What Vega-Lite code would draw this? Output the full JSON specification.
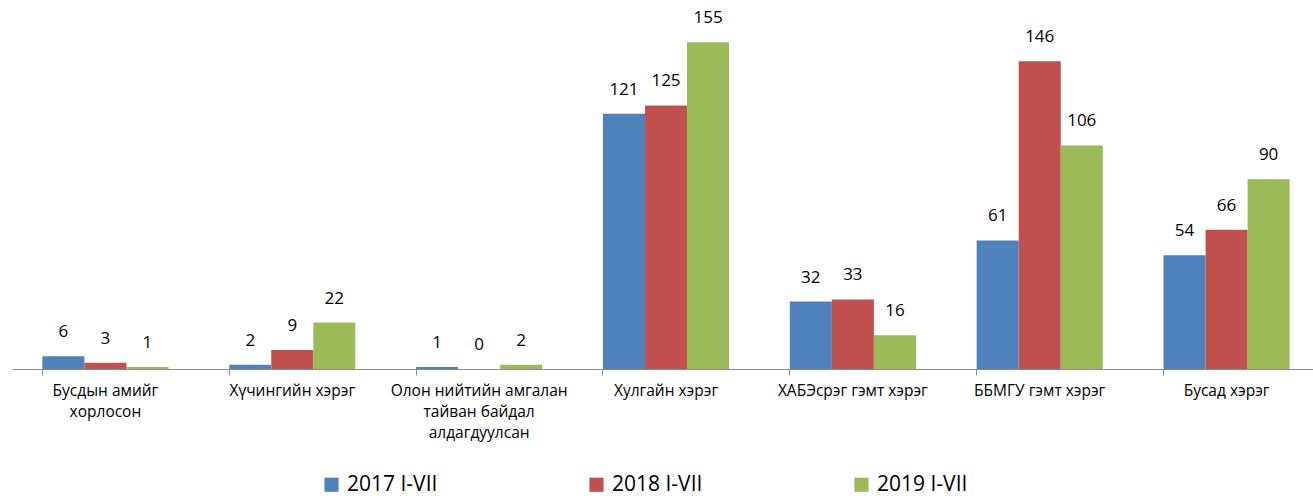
{
  "$schema": "https://vega.github.io/schema/vega-lite/v6.json",
  "width": 1308,
  "height": 369,
  "autosize": "none",
  "padding": {"left": 12, "top": 0, "right": 0, "bottom": 131},
  "config": {"view": {"stroke": null}, "font": "Open Sans"},
  "data": {"values": [
    {"cat": "Бусдын амийг хорлосон", "series": "2017 I-VII", "v": 6},
    {"cat": "Бусдын амийг хорлосон", "series": "2018 I-VII", "v": 3},
    {"cat": "Бусдын амийг хорлосон", "series": "2019 I-VII", "v": 1},
    {"cat": "Хүчингийн хэрэг", "series": "2017 I-VII", "v": 2},
    {"cat": "Хүчингийн хэрэг", "series": "2018 I-VII", "v": 9},
    {"cat": "Хүчингийн хэрэг", "series": "2019 I-VII", "v": 22},
    {"cat": "Олон нийтийн амгалан тайван байдал алдагдуулсан", "series": "2017 I-VII", "v": 1},
    {"cat": "Олон нийтийн амгалан тайван байдал алдагдуулсан", "series": "2018 I-VII", "v": 0},
    {"cat": "Олон нийтийн амгалан тайван байдал алдагдуулсан", "series": "2019 I-VII", "v": 2},
    {"cat": "Хулгайн хэрэг", "series": "2017 I-VII", "v": 121},
    {"cat": "Хулгайн хэрэг", "series": "2018 I-VII", "v": 125},
    {"cat": "Хулгайн хэрэг", "series": "2019 I-VII", "v": 155},
    {"cat": "ХАБЭсрэг гэмт хэрэг", "series": "2017 I-VII", "v": 32},
    {"cat": "ХАБЭсрэг гэмт хэрэг", "series": "2018 I-VII", "v": 33},
    {"cat": "ХАБЭсрэг гэмт хэрэг", "series": "2019 I-VII", "v": 16},
    {"cat": "ББМГУ гэмт хэрэг", "series": "2017 I-VII", "v": 61},
    {"cat": "ББМГУ гэмт хэрэг", "series": "2018 I-VII", "v": 146},
    {"cat": "ББМГУ гэмт хэрэг", "series": "2019 I-VII", "v": 106},
    {"cat": "Бусад хэрэг", "series": "2017 I-VII", "v": 54},
    {"cat": "Бусад хэрэг", "series": "2018 I-VII", "v": 66},
    {"cat": "Бусад хэрэг", "series": "2019 I-VII", "v": 90}
  ]},
  "encoding": {
    "x": {
      "field": "cat", "type": "nominal", "sort": null,
      "scale": {"paddingInner": 0.325, "paddingOuter": 0.1625},
      "axis": {
        "title": null, "labelAngle": 0, "bandPosition": 0,
        "domainColor": "#8c8c8c", "tickColor": "#8c8c8c", "tickSize": 6,
        "labelFontSize": 15.5, "labelColor": "#000000", "labelPadding": 8,
        "labelLimit": 220, "labelLineHeight": 21, "labelBaseline": "top",
        "labelExpr": "datum.label == 'Бусдын амийг хорлосон' ? ['Бусдын амийг', 'хорлосон'] : datum.label == 'Олон нийтийн амгалан тайван байдал алдагдуулсан' ? ['Олон нийтийн амгалан', 'тайван байдал', 'алдагдуулсан'] : datum.label"
      }
    },
    "xOffset": {"field": "series", "type": "nominal", "scale": {"paddingInner": 0, "paddingOuter": 0}},
    "y": {"field": "v", "type": "quantitative", "scale": {"domain": [0, 175]}, "axis": null}
  },
  "layer": [
    {
      "mark": {"type": "bar"},
      "encoding": {
        "color": {
          "field": "series", "type": "nominal",
          "scale": {"range": ["#4F81BD", "#C0504D", "#9BBB59"]},
          "legend": {
            "title": null, "orient": "none", "direction": "horizontal",
            "legendX": 309, "legendY": 474,
            "symbolType": "square", "symbolSize": 200, "symbolStrokeWidth": 0,
            "labelFontSize": 21, "labelColor": "#000000", "labelFont": "Open Sans",
            "columnPadding": 148, "labelOffset": 5
          }
        }
      }
    },
    {
      "mark": {"type": "text", "baseline": "bottom", "dy": -15, "fontSize": 17, "color": "#000000"},
      "encoding": {"text": {"field": "v", "type": "quantitative"}}
    }
  ]
}
